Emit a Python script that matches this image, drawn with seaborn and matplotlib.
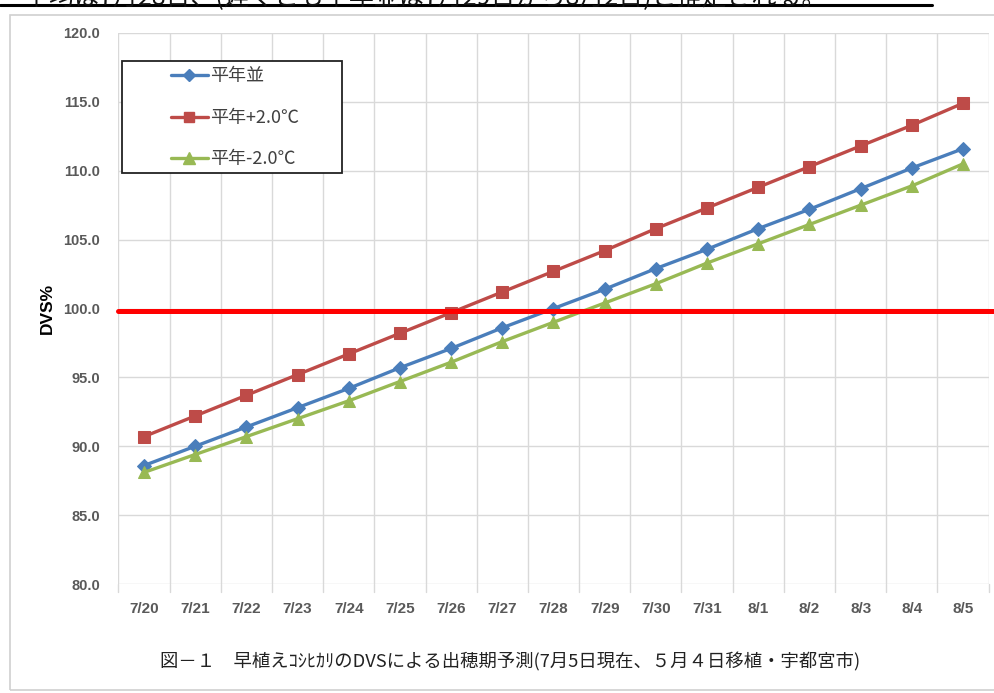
import matplotlib
matplotlib.use("Agg")
import matplotlib.pyplot as plt
import matplotlib.transforms as mtransforms
from matplotlib.patches import Rectangle
from matplotlib.lines import Line2D
import numpy as np
import pandas as pd
import seaborn as sns

# Dates on the horizontal axis
dates = ["7/20", "7/21", "7/22", "7/23", "7/24", "7/25", "7/26", "7/27", "7/28",
         "7/29", "7/30", "7/31", "8/1", "8/2", "8/3", "8/4", "8/5"]

# DVS (%) under each temperature scenario
dvs_normal = [88.6, 90.0, 91.4, 92.8, 94.2, 95.7, 97.1, 98.6, 100.0,
              101.4, 102.9, 104.3, 105.8, 107.2, 108.7, 110.2, 111.6]
dvs_warm = [90.7, 92.2, 93.7, 95.2, 96.7, 98.2, 99.7, 101.2, 102.7,
            104.2, 105.8, 107.3, 108.8, 110.3, 111.8, 113.3, 114.9]
dvs_cool = [88.1, 89.4, 90.7, 92.0, 93.3, 94.7, 96.1, 97.6, 99.0,
            100.4, 101.8, 103.3, 104.7, 106.1, 107.5, 108.9, 110.5]

series_names = ["平年並", "平年+2.0℃", "平年-2.0℃"]
heading_threshold = 99.8

y_ticks = [80.0, 85.0, 90.0, 95.0, 100.0, 105.0, 110.0, 115.0, 120.0]

sns.set_theme(style="white")
plt.rcParams["font.family"] = ["Noto Sans CJK JP", "DejaVu Sans"]

df = pd.DataFrame({
    "pos": np.tile(np.arange(len(dates)), 3),
    "DVS": dvs_normal + dvs_warm + dvs_cool,
    "series": np.repeat(series_names, len(dates)),
})

palette = {"平年並": "#4A7EBB", "平年+2.0℃": "#BE4B48", "平年-2.0℃": "#98B954"}
markers = {"平年並": "D", "平年+2.0℃": "s", "平年-2.0℃": "^"}
msizes = {"平年並": 7, "平年+2.0℃": 8, "平年-2.0℃": 9}

fig = plt.figure(figsize=(9.95, 6.93), dpi=100)
fig.patch.set_facecolor("white")

# outer frame around the chart
fig.add_artist(Rectangle((10 / 995, 3 / 693), 990 / 995, 675 / 693,
                         transform=fig.transFigure, fill=False,
                         edgecolor="#d0d0d0", linewidth=1.2))

ax_left = 118.4 / 995
ax = fig.add_axes([ax_left, 1 - 584 / 693, (988.6 - 118.4) / 995, (584 - 33) / 693])

for name in series_names:
    sub = df[df["series"] == name]
    sns.lineplot(data=sub, x="pos", y="DVS", ax=ax, color=palette[name],
                 linewidth=2.4, marker=markers[name], markersize=msizes[name],
                 markeredgecolor=palette[name], label=name, legend=False,
                 zorder=3)

ax.set_xlim(-0.5, len(dates) - 0.5)
ax.set_ylim(80, 120)
ax.set_yticks(y_ticks)
ax.set_yticklabels([f"{v:.1f}" for v in y_ticks], fontsize=10.5, color="#595959",
                   fontweight="bold", family=["Liberation Sans", "DejaVu Sans"])
ax.set_xticks(np.arange(len(dates)))
ax.set_xticklabels(dates, fontsize=11, color="#595959", fontweight="bold",
                   family=["Liberation Sans", "DejaVu Sans"])
ax.tick_params(axis="x", length=0, pad=13)
ax.tick_params(axis="y", length=0, pad=13)

# gridlines: horizontal at each tick, vertical between categories
for v in y_ticks:
    ax.axhline(v, color="#d9d9d9", linewidth=1.0, zorder=0)
for b in np.arange(-0.5, len(dates), 1.0):
    ax.axvline(b, color="#d9d9d9", linewidth=1.0, zorder=0)
    ax.plot([b, b], [80, 79.4], color="#d9d9d9", linewidth=1.0, clip_on=False)
for s in ax.spines.values():
    s.set_visible(False)

ax.set_xlabel("")
ax.set_ylabel("DVS%", fontsize=12.5, fontweight="bold", color="black",
              family=["Liberation Sans", "DejaVu Sans"], labelpad=6)

# heading threshold from the plot's left edge to the right edge of the figure
trans = mtransforms.blended_transform_factory(fig.transFigure, ax.transData)
fig.add_artist(Line2D([ax_left, 1], [heading_threshold, heading_threshold],
                      transform=trans, color="#FF0000", linewidth=3.6, zorder=5))

# legend with a fixed-size frame
fig.add_artist(Rectangle((122 / 995, 1 - 173 / 693), 220 / 995, 112 / 693,
                         transform=fig.transFigure, facecolor="white",
                         edgecolor="#222222", linewidth=1.3, zorder=6))
handles = [Line2D([0], [0], color=palette[n], linewidth=2.4, marker=markers[n],
                  markersize=msizes[n] - 1, markeredgecolor=palette[n])
           for n in series_names]
leg = fig.legend(handles, series_names, loc="upper left",
                 bbox_to_anchor=(166 / 995, 1 - 62 / 693),
                 frameon=False, handlelength=2.0, handletextpad=0.15,
                 labelspacing=1.3, borderpad=0.3, borderaxespad=0,
                 prop={"family": ["Noto Sans CJK JP", "DejaVu Sans"], "size": 13})
leg.set_zorder(7)
for t in leg.get_texts():
    t.set_color("#404040")

# caption
fig.text(510 / 995, 1 - 662 / 693,
         "図－１　早植えｺｼﾋｶﾘのDVSによる出穂期予測(7月5日現在、５月４日移植・宇都宮市)",
         ha="center", va="center", fontsize=13.2, color="#222222")

# running text above the chart, cut at the top edge
fig.text(0.0, 1 + 2 / 693,
         "ー平均は7月28日、(遅くとも平年並は7月29日から8月2日)と推定される。",
         ha="left", va="center", fontsize=18, color="#111111")
fig.add_artist(Line2D([0, 932 / 995], [1 - 5 / 693, 1 - 5 / 693],
                      transform=fig.transFigure, color="black", linewidth=2.2))

fig.savefig("out.png", dpi=100, facecolor="white")
